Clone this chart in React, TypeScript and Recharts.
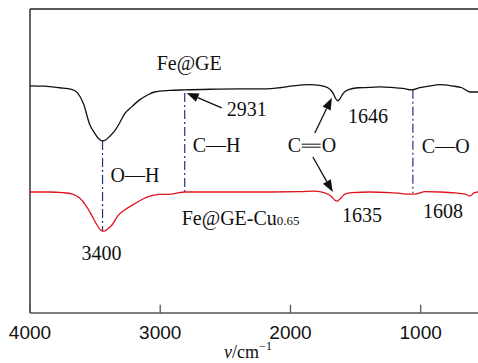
import React from 'react';
import { LineChart, Line, XAxis, YAxis, ReferenceLine, ReferenceDot } from 'recharts';

// Fe@GE spectrum (wavenumber, transmittance a.u.)
const feGeWavenumber = [
  4000, 3889, 3773, 3681, 3635, 3589, 3543, 3504, 3466, 3443, 3420, 3389, 3350, 3312, 3274, 3220,
  3158, 3097, 3043, 2928, 2812, 2620, 2390, 2197, 2082, 1982, 1851, 1775, 1713, 1674, 1651, 1636,
  1621, 1598, 1559, 1482, 1390, 1313, 1221, 1137, 1068, 1006, 929, 852, 760, 683, 621, 560,
];
const feGeSignal = [
  74.7, 74.6, 74.1, 73.6, 72.4, 68.8, 62.2, 59.2, 57.1, 56.6, 56.9, 58.1, 59.9, 62.5, 65.5, 67.8,
  70.1, 71.7, 72.7, 73.2, 73.4, 73.6, 73.7, 73.7, 74.1, 74.7, 75.1, 74.9, 74.1, 72.4, 70.4, 69.8,
  70.4, 72.1, 73.4, 74.1, 74.2, 74.4, 74.2, 73.9, 73.4, 74.1, 74.7, 75.1, 74.7, 74.1, 72.7, 72.7,
];

// Fe@GE-Cu0.65 spectrum
const feGeCuWavenumber = [
  4000, 3850, 3750, 3673, 3619, 3573, 3527, 3489, 3458, 3435, 3404, 3366, 3327, 3274, 3197, 3097,
  3005, 2912, 2866, 2812, 2543, 2236, 1928, 1813, 1736, 1690, 1659, 1643, 1620, 1582, 1528, 1390,
  1237, 1145, 1083, 1022, 968, 852, 737, 660, 621, 591, 560,
];
const feGeCuSignal = [
  39.8, 39.8, 39.6, 39.1, 37.8, 35.5, 32.2, 29.2, 27.3, 26.9, 27.6, 29.2, 31.9, 33.9, 35.9, 38.2,
  39.0, 39.1, 39.5, 39.8, 39.8, 39.8, 39.9, 40.1, 39.5, 38.5, 37.1, 36.8, 37.5, 39.1, 39.6, 39.8,
  39.6, 39.3, 39.1, 39.3, 39.9, 39.8, 39.5, 39.1, 38.5, 39.5, 39.8,
];

const xTicks = [4000, 3000, 2000, 1000];

// vertical dash-dot markers for the bands
const bandWavenumber = [3443, 2812, 1060];
const bandTop = [56.6, 72.4, 73.4];
const bandBottom = [26.9, 39.8, 39.5];

// arrows: [from w, from v, to w, to v]
const arrows = [
  [2528, 67.5, 2797, 72.4],
  [1813, 59.2, 1682, 70.8],
  [1828, 51.3, 1675, 39.8],
];

// text annotations (left edge, baseline)
const noteText = ['Fe@GE', '2931', 'C—H', 'O—H', '3400', 'C', '1646', 'C—O', '1635', '1608', 'Fe@GE-Cu'];
const noteW = [3027, 2489, 2751, 3381, 3604, 2021, 1559, 991, 1605, 983, 2835];
const noteV = [80.0, 64.8, 52.9, 43.0, 17.4, 52.9, 62.5, 52.6, 29.9, 31.2, 28.9];

const feGeData = feGeWavenumber.map((w, i) => ({ w, t: feGeSignal[i] }));
const feGeCuData = feGeCuWavenumber.map((w, i) => ({ w, t: feGeCuSignal[i] }));

const SERIF = '"Liberation Serif", "Times New Roman", Times, serif';
const SANS = '"Liberation Sans", Arial, sans-serif';
const BAND = '#25308c';
const serifStyle = { fontFamily: SERIF };

const Note = ({ cx, cy, text }: any) => {
  if (text === 'C') {
    // C=O with long double bond
    return (
      <g>
        <text x={cx} y={cy} style={serifStyle} fontSize={20} fill="#111">C</text>
        <line x1={cx + 14} x2={cx + 33} y1={cy - 8} y2={cy - 8} stroke="#111" strokeWidth={1} />
        <line x1={cx + 14} x2={cx + 33} y1={cy - 5} y2={cy - 5} stroke="#111" strokeWidth={1} />
        <text x={cx + 34} y={cy} style={serifStyle} fontSize={20} fill="#111">O</text>
      </g>
    );
  }
  return (
    <text x={cx} y={cy} style={serifStyle} fontSize={20} fill="#111">
      {text}
      {text === 'Fe@GE-Cu' && <tspan fontSize={13}>0.65</tspan>}
    </text>
  );
};

const Arrow = ({ x1, y1, x2, y2 }: any) => {
  const a = Math.atan2(y2 - y1, x2 - x1);
  const len = 12;
  const hw = 4.5;
  const bx = x2 - len * Math.cos(a);
  const by = y2 - len * Math.sin(a);
  const px = -Math.sin(a) * hw;
  const py = Math.cos(a) * hw;
  return (
    <g>
      <line x1={x1} y1={y1} x2={bx} y2={by} stroke="#111" strokeWidth={1.3} />
      <polygon points={`${x2},${y2} ${bx + px},${by + py} ${bx - px},${by - py}`} fill="#111" />
    </g>
  );
};

const Tick = ({ x, y, payload }: any) => (
  <text x={x} y={y + 26} textAnchor="middle" style={{ fontFamily: SANS }} fontSize={19} fill="#111">
    {payload.value}
  </text>
);

const AxisTitle = ({ viewBox }: any) => (
  <text
    x={viewBox.x + viewBox.width / 2 - 6}
    y={358}
    textAnchor="middle"
    style={serifStyle}
    fontSize={18}
    fill="#111"
  >
    <tspan fontStyle="italic">ν</tspan>/cm
    <tspan fontSize={12} dy={-8}>−1</tspan>
  </text>
);

export default function App() {
  return (
    <div style={{ position: 'absolute', left: 0, top: 0, width: 478, height: 363, background: '#fff' }}>
      <LineChart width={478} height={363} margin={{ top: 9, right: 0, bottom: 0, left: 30 }}>
        <XAxis
          type="number"
          dataKey="w"
          domain={[560, 4000]}
          reversed
          allowDataOverflow
          ticks={xTicks}
          interval={0}
          height={50}
          tickSize={0}
          tickMargin={0}
          tickLine={false}
          tick={<Tick />}
          axisLine={{ stroke: '#555', strokeWidth: 1.5 }}
          label={{ content: <AxisTitle /> }}
        />
        <YAxis type="number" domain={[0, 100]} width={0} tick={false} tickLine={false} axisLine={false} />
        <ReferenceLine y={100} stroke="#222" strokeWidth={1.5} />
        <ReferenceLine x={4000} stroke="#333" strokeWidth={1.5} />
        {xTicks.map((t) => (
          <ReferenceLine
            key={`tick-${t}`}
            segment={[{ x: t, y: 0 }, { x: t, y: 2.7 }]}
            stroke="#555"
            strokeWidth={1.3}
          />
        ))}
        {bandWavenumber.map((w, i) => (
          <ReferenceLine
            key={`band-${i}`}
            segment={[{ x: w, y: bandTop[i] }, { x: w, y: bandBottom[i] }]}
            stroke={BAND}
            strokeWidth={1.2}
            strokeDasharray="9 3 2 3"
          />
        ))}
        <Line
          data={feGeData}
          dataKey="t"
          type="monotone"
          stroke="#111"
          strokeWidth={1.3}
          dot={false}
          isAnimationActive={false}
        />
        <Line
          data={feGeCuData}
          dataKey="t"
          type="monotone"
          stroke="#e0141e"
          strokeWidth={1.3}
          dot={false}
          isAnimationActive={false}
        />
        {arrows.map((a, i) => (
          <ReferenceLine
            key={`arrow-${i}`}
            segment={[{ x: a[0], y: a[1] }, { x: a[2], y: a[3] }]}
            shape={(p: any) => <Arrow {...p} />}
          />
        ))}
        {noteText.map((t, i) => (
          <ReferenceDot
            key={`note-${i}`}
            x={noteW[i]}
            y={noteV[i]}
            r={0}
            shape={(p: any) => <Note {...p} text={t} />}
          />
        ))}
      </LineChart>
    </div>
  );
}
